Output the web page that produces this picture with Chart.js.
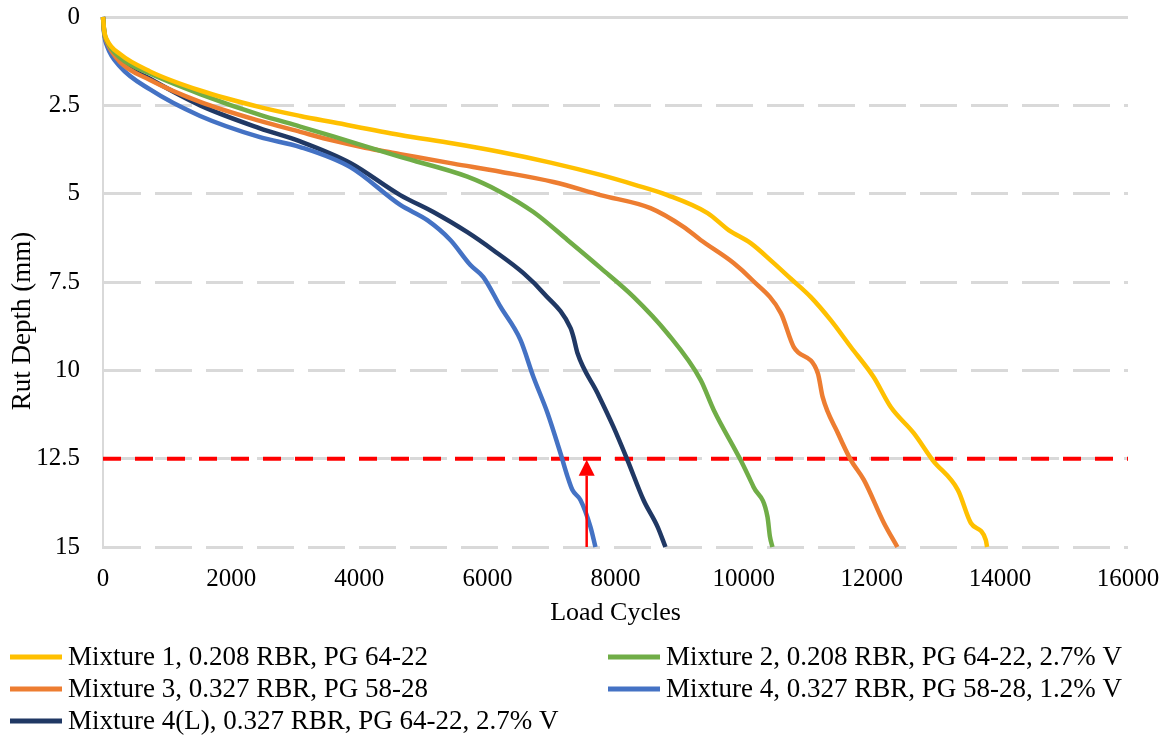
<!DOCTYPE html>
<html>
<head>
<meta charset="utf-8">
<script src="https://cdn.jsdelivr.net/npm/chart.js@4.4.1/dist/chart.umd.min.js"></script>
<style>
    html, body { margin: 0; padding: 0; background: #fff; }
    #contenedor { width: 1167px; height: 738px; }
</style>
</head>
<body>
<div id="contenedor"><canvas id="graficoAhuellamiento" width="1167" height="738"></canvas></div>
<script>
// Ciclos de carga y profundidad de ahuellamiento (mm) por mezcla
const CICLOS_M1 = [0, 20, 63, 265, 734, 1516, 2450, 3078, 3594, 4640, 5468, 6204, 6986, 7766, 8303, 8809, 9437, 9766, 10110, 10449, 10733, 11046, 11360, 11674, 12029, 12297, 12656, 12950, 13345, 13547, 13780, 13800];
const RUT_M1    = [0, 0.4, 0.65, 1.05, 1.54, 2.08, 2.55, 2.8, 2.98, 3.34, 3.58, 3.82, 4.12, 4.47, 4.75, 5.04, 5.55, 6.03, 6.4, 6.93, 7.4, 7.92, 8.58, 9.34, 10.19, 11.04, 11.78, 12.54, 13.39, 14.32, 14.8, 15.0];

const CICLOS_M2 = [0, 20, 63, 265, 734, 1516, 2450, 3078, 3594, 4640, 5687, 6204, 6719, 7250, 7766, 8282, 8809, 9328, 9533, 9953, 10155, 10373, 10410, 10450];
const RUT_M2    = [0, 0.42, 0.68, 1.15, 1.6, 2.18, 2.77, 3.1, 3.38, 3.96, 4.52, 4.95, 5.52, 6.31, 7.1, 7.92, 8.95, 10.27, 11.12, 12.54, 13.3, 14.15, 14.7, 15.0];

const CICLOS_M3 = [0, 20, 63, 265, 734, 1516, 2450, 3078, 3594, 4090, 4640, 5468, 6204, 7032, 7766, 8546, 9062, 9328, 9843, 10110, 10581, 10783, 11158, 11234, 11472, 11674, 11877, 12190, 12400];
const RUT_M3    = [0, 0.45, 0.72, 1.27, 1.78, 2.4, 2.94, 3.25, 3.5, 3.7, 3.88, 4.15, 4.38, 4.67, 5.04, 5.41, 5.94, 6.31, 6.96, 7.4, 8.38, 9.34, 10.08, 10.76, 11.78, 12.54, 13.1, 14.32, 15.0];

const CICLOS_M4 = [0, 20, 63, 265, 734, 1516, 2450, 3078, 3860, 4640, 5062, 5422, 5735, 5937, 6204, 6516, 6719, 6937, 7140, 7250, 7328, 7453, 7609, 7687];
const RUT_M4    = [0, 0.5, 0.82, 1.4, 2.05, 2.8, 3.4, 3.68, 4.25, 5.32, 5.75, 6.31, 7.02, 7.36, 8.2, 9.14, 10.19, 11.2, 12.34, 13.0, 13.39, 13.67, 14.43, 15.0];

const CICLOS_M4L = [0, 20, 63, 265, 734, 1516, 2450, 3078, 3860, 4640, 5157, 5687, 6093, 6563, 6875, 7297, 7344, 7406, 7718, 7968, 8187, 8437, 8657, 8780];
const RUT_M4L    = [0, 0.45, 0.72, 1.25, 1.75, 2.5, 3.15, 3.52, 4.13, 5.04, 5.52, 6.09, 6.6, 7.25, 7.81, 8.8, 9.06, 9.51, 10.64, 11.6, 12.54, 13.67, 14.43, 15.0];

const ETIQUETAS = [
    'Mixture 1, 0.208 RBR, PG 64-22',
    'Mixture 2, 0.208 RBR, PG 64-22, 2.7% V',
    'Mixture 3, 0.327 RBR, PG 58-28',
    'Mixture 4, 0.327 RBR, PG 58-28, 1.2% V',
    'Mixture 4(L), 0.327 RBR, PG 64-22, 2.7% V'
];

// Umbral de falla y ciclo marcado con la flecha
const UMBRAL_RUT = 12.5;
const CICLO_FLECHA = 7550;

const COLORES = {
    amarillo: '#FFC000',
    verde: '#70AD47',
    naranja: '#ED7D31',
    azul: '#4472C4',
    marino: '#203864',
    rojo: '#FF0000',
    rejilla: '#D9D9D9'
};

const FUENTE = "'Liberation Serif', 'Times New Roman', serif";

function puntos(xs, ys) {
    return xs.map((x, i) => ({ x: x, y: ys[i] }));
}

function serie(etiqueta, xs, ys, color) {
    return {
        label: etiqueta,
        data: puntos(xs, ys),
        borderColor: color,
        backgroundColor: color,
        borderWidth: 4.5,
        pointRadius: 0,
        cubicInterpolationMode: 'monotone',
        clip: false
    };
}

const datasets = [
    serie(ETIQUETAS[0], CICLOS_M1, RUT_M1, COLORES.amarillo),
    serie(ETIQUETAS[1], CICLOS_M2, RUT_M2, COLORES.verde),
    serie(ETIQUETAS[2], CICLOS_M3, RUT_M3, COLORES.naranja),
    serie(ETIQUETAS[3], CICLOS_M4, RUT_M4, COLORES.azul),
    serie(ETIQUETAS[4], CICLOS_M4L, RUT_M4L, COLORES.marino),
    {
        label: 'umbral',
        data: [{ x: 0, y: UMBRAL_RUT }, { x: 16000, y: UMBRAL_RUT }],
        borderColor: COLORES.rojo,
        borderWidth: 4,
        borderDash: [18, 14],
        pointRadius: 0,
        clip: false,
        enLeyenda: false
    }
];

/**
 * Flecha vertical desde el eje hasta el umbral
 */
const pluginFlecha = {
    id: 'flecha',
    afterDatasetsDraw(chart) {
        const { ctx, scales: { x, y } } = chart;
        const px = x.getPixelForValue(CICLO_FLECHA);
        const yBase = y.getPixelForValue(15);
        const yPunta = y.getPixelForValue(UMBRAL_RUT) + 1;
        const alto = 16, ancho = 16;
        ctx.save();
        ctx.strokeStyle = COLORES.rojo;
        ctx.fillStyle = COLORES.rojo;
        ctx.lineWidth = 2.5;
        ctx.beginPath();
        ctx.moveTo(px, yBase);
        ctx.lineTo(px, yPunta + alto);
        ctx.stroke();
        ctx.beginPath();
        ctx.moveTo(px, yPunta);
        ctx.lineTo(px - ancho / 2, yPunta + alto);
        ctx.lineTo(px + ancho / 2, yPunta + alto);
        ctx.closePath();
        ctx.fill();
        ctx.restore();
    }
};

/**
 * Título vertical del eje Y, algo desplazado hacia abajo
 */
const pluginTituloY = {
    id: 'tituloY',
    afterDraw(chart) {
        const { ctx } = chart;
        ctx.save();
        ctx.translate(23, 321);
        ctx.rotate(-Math.PI / 2);
        ctx.font = '27px ' + FUENTE;
        ctx.fillStyle = '#000';
        ctx.textAlign = 'center';
        ctx.textBaseline = 'middle';
        ctx.fillText('Rut Depth (mm)', 0, 0);
        ctx.restore();
    }
};

/**
 * Leyenda en dos columnas debajo del gráfico
 */
const pluginLeyenda = {
    id: 'leyendaColumnas',
    afterDraw(chart) {
        const { ctx } = chart;
        const columnas = [10, 608];
        const filas = [657, 689, 721];
        let n = 0;
        ctx.save();
        ctx.font = '27px ' + FUENTE;
        ctx.textBaseline = 'middle';
        ctx.textAlign = 'left';
        chart.data.datasets.forEach(ds => {
            if (ds.enLeyenda === false) return;
            const cx = columnas[n % 2];
            const cy = filas[Math.floor(n / 2)];
            ctx.strokeStyle = ds.borderColor;
            ctx.lineWidth = 5;
            ctx.beginPath();
            ctx.moveTo(cx, cy);
            ctx.lineTo(cx + 52, cy);
            ctx.stroke();
            ctx.fillStyle = '#000';
            ctx.fillText(ds.label, cx + 58, cy + 1);
            n++;
        });
        ctx.restore();
    }
};

new Chart(document.getElementById('graficoAhuellamiento'), {
    type: 'line',
    data: { datasets: datasets },
    plugins: [pluginFlecha, pluginTituloY, pluginLeyenda],
    options: {
        responsive: false,
        animation: false,
        layout: { padding: { top: 17, right: 39, bottom: 108, left: 0 } },
        plugins: {
            legend: { display: false },
            tooltip: { enabled: false }
        },
        scales: {
            x: {
                type: 'linear',
                min: 0,
                max: 16000,
                ticks: {
                    stepSize: 2000,
                    padding: 9,
                    color: '#000',
                    font: { family: FUENTE, size: 25 },
                    maxRotation: 0,
                    callback: v => String(v)
                },
                grid: { display: false },
                border: { display: false },
                title: {
                    display: true,
                    text: 'Load Cycles',
                    color: '#000',
                    font: { family: FUENTE, size: 26 },
                    padding: { top: 1, bottom: 1 }
                },
                afterFit(scale) {
                    scale.height = 83;
                    scale.paddingLeft = 0;
                    scale.paddingRight = 0;
                }
            },
            y: {
                reverse: true,
                min: 0,
                max: 15,
                ticks: {
                    stepSize: 2.5,
                    padding: 23,
                    color: '#000',
                    font: { family: FUENTE, size: 25 }
                },
                grid: {
                    color: COLORES.rejilla,
                    lineWidth: 3,
                    drawTicks: false
                },
                border: {
                    display: true,
                    color: COLORES.rejilla,
                    width: 2,
                    dash: ctx => (ctx.tick && ctx.tick.value !== 0) ? [37, 14] : []
                },
                afterFit(scale) {
                    scale.width = 103;
                    scale.paddingTop = 0;
                    scale.paddingBottom = 0;
                }
            }
        }
    }
});
</script>
</body>
</html>
